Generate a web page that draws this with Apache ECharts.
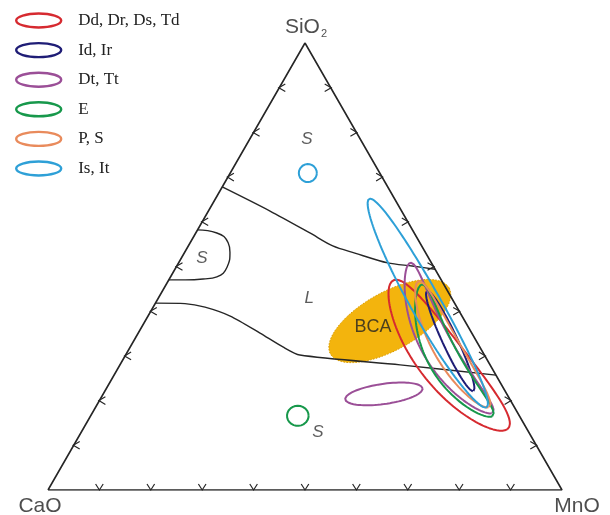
<!DOCTYPE html>
<html>
<head>
<meta charset="utf-8">
<script src="https://cdn.jsdelivr.net/npm/echarts@6/dist/echarts.min.js"></script>
<style>
  html, body { margin: 0; padding: 0; background: #fff; }
  #chart { width: 610px; height: 515px; }
</style>
</head>
<body>
<div id="chart"></div>
<script>
// All compositions are given as [SiO2, CaO, MnO] in wt %.
const tickSteps = [10, 20, 30, 40, 50, 60, 70, 80, 90];

// Phase boundaries
const upperBoundary = [[67.8, 32.2, 0], [62.4, 25.6, 12.0], [57.5, 20.3, 22.2], [54.6, 17.3, 28.1],
  [53.0, 13.8, 33.2], [50.8, 8.5, 40.7], [50.1, 4.1, 45.8], [49.4, 0, 50.6]];
const lowerBoundary = [[41.8, 58.2, 0], [41.7, 52.5, 5.8], [40.9, 49.0, 10.1], [38.9, 45.1, 16.0],
  [35.1, 41.2, 23.7], [32.0, 38.3, 29.7], [30.2, 35.9, 33.9], [28.0, 17.5, 54.5], [25.7, 0, 74.3]];
const leftLoop = [[58.2, 41.8, 0], [57.5, 38.4, 4.1], [55.3, 37.3, 7.4], [53.2, 38.0, 8.8],
  [49.9, 40.2, 9.9], [47.7, 43.3, 9.0], [47.2, 46.2, 6.6], [47.0, 49.8, 3.2], [47.0, 53.0, 0]];

// Composition fields:
// [SiO2, CaO, MnO, semi-major, semi-minor, rotation (deg), bow of the long axis]
const fieldDdDrDsTd = [[30.2, 6.7, 63.1, 18.2, 4.6, -52, -1.9]];
const fieldIdIr = [[33.3, 5.1, 61.6, 10.7, 1.45, -65, 0]];
const fieldDtTt = [[34.0, 4.6, 61.4, 16.6, 3.0, -61, -3.2], [21.5, 23.9, 54.6, 7.6, 1.95, 8, 0]];
const fieldE = [[31.2, 4.9, 63.9, 14.5, 3.0, -61.5, -3.0], [16.6, 43.1, 40.3, 2.1, 1.95, 0, 0]];
const fieldPS = [[32.6, 4.8, 62.6, 14.0, 2.6, -60.4, -1.5]];
const fieldIsIt = [[41.8, 5.2, 53.0, 23.2, 2.9, -60.5, -0.4], [70.9, 14.0, 15.1, 1.75, 1.75, 0, 0]];
const fieldBCA = [37.8, 14.6, 47.6, 13.2, 5.6, 29, 0];

const groupNames = ['Dd, Dr, Ds, Td', 'Id, Ir', 'Dt, Tt', 'E', 'P, S', 'Is, It'];
const groupFields = [fieldDdDrDsTd, fieldIdIr, fieldDtTt, fieldE, fieldPS, fieldIsIt];
const groupColors = ['#d62a30', '#1f1d76', '#9b4f97', '#17984b', '#e98b5c', '#2ea0d7'];

const regionNames = ['S', 'S', 'L', 'S'];
const regionPoints = [[78.5, 10.4, 11.1], [51.9, 44.1, 4.0], [43.0, 27.7, 29.3], [13.0, 41.0, 46.0]];
const bcaLabelPoint = [36.5, 18.5, 45.0];

// Ternary -> plane: CaO apex at (0,0), MnO apex at (100,0), SiO2 apex on top.
const H = Math.sqrt(3) / 2;
function toXY(p) { return [p[2] + p[0] / 2, p[0] * H]; }

// Outline of a (possibly bowed) ellipse around a ternary centre.
function ellipse(f) {
  const c = toXY(f);
  const a = f[3], b = f[4], r = f[5] * Math.PI / 180, bow = f[6] || 0;
  const pts = [];
  for (let i = 0; i <= 160; i++) {
    const t = i / 160 * 2 * Math.PI;
    const u = a * Math.cos(t);
    const v = b * Math.sin(t) + bow * (1 - (u / a) * (u / a));
    pts.push([c[0] + u * Math.cos(r) - v * Math.sin(r), c[1] + u * Math.sin(r) + v * Math.cos(r)]);
  }
  return pts;
}

function fieldLine(fields) {
  const out = [];
  fields.forEach((f, i) => {
    if (i > 0) out.push(null);
    ellipse(f).forEach(p => out.push(p));
  });
  return out;
}

const tickData = [];
tickSteps.forEach(t => {
  tickData.push(toXY([0, 100 - t, t]).concat(0));
  tickData.push(toXY([t, 100 - t, 0]).concat(1));
  tickData.push(toXY([t, 0, 100 - t]).concat(2));
});

const bcaPts = ellipse(fieldBCA);
const ink = '#262626';

const series = [
  {
    type: 'custom', coordinateSystem: 'cartesian2d', silent: true, z: 1,
    data: [[0, 0]],
    renderItem: (params, api) => ({
      type: 'polygon',
      shape: { points: bcaPts.map(p => api.coord(p)) },
      style: { fill: '#f3b40d', stroke: '#d99b00', lineWidth: 1, lineDash: [1.5, 1.5] }
    })
  },
  {
    type: 'line', silent: true, z: 3, symbol: 'none',
    data: [toXY([0, 100, 0]), toXY([0, 0, 100]), toXY([100, 0, 0]), toXY([0, 100, 0])],
    lineStyle: { color: ink, width: 1.6 }
  },
  {
    type: 'line', silent: true, z: 3, symbol: 'none', smooth: 0.3,
    data: upperBoundary.map(toXY), lineStyle: { color: ink, width: 1.4 }
  },
  {
    type: 'line', silent: true, z: 3, symbol: 'none', smooth: 0.25,
    data: lowerBoundary.map(toXY), lineStyle: { color: ink, width: 1.4 }
  },
  {
    type: 'line', silent: true, z: 3, symbol: 'none', smooth: 0.5,
    data: leftLoop.map(toXY), lineStyle: { color: ink, width: 1.4 }
  },
  {
    type: 'custom', coordinateSystem: 'cartesian2d', silent: true, z: 3,
    data: tickData,
    renderItem: (params, api) => {
      const p = api.coord([api.value(0), api.value(1)]);
      const d = api.value(2);
      const L = 6, W = 3.8;
      let pts;
      if (d === 0) pts = [[p[0] - W, p[1] - L], p, [p[0] + W, p[1] - L]];
      else if (d === 1) pts = [[p[0] + L, p[1] - W], [p[0] - 0.5, p[1]], [p[0] + L, p[1] + W]];
      else pts = [[p[0] - L, p[1] - W], [p[0] + 0.5, p[1]], [p[0] - L, p[1] + W]];
      return { type: 'polyline', shape: { points: pts }, style: { stroke: ink, lineWidth: 1.2, fill: null } };
    }
  }
];

groupNames.forEach((name, i) => {
  series.push({
    name: name, type: 'line', silent: true, z: 5, symbol: 'none', connectNulls: false,
    color: groupColors[i],
    data: fieldLine(groupFields[i]),
    lineStyle: { color: groupColors[i], width: 2 }
  });
});

series.push({
  type: 'scatter', silent: true, z: 6, symbolSize: 1,
  itemStyle: { color: 'rgba(0,0,0,0)' },
  data: regionNames.map((n, i) => ({ name: n, value: toXY(regionPoints[i]) })),
  label: {
    show: true, position: 'inside', formatter: '{b}', color: '#333',
    fontFamily: 'Liberation Sans', fontStyle: 'italic', fontSize: 17
  }
});
series.push({
  type: 'scatter', silent: true, z: 6, symbolSize: 1,
  itemStyle: { color: 'rgba(0,0,0,0)' },
  data: [{ name: 'BCA', value: toXY(bcaLabelPoint) }],
  label: {
    show: true, position: 'inside', formatter: '{b}', color: '#222',
    fontFamily: 'Liberation Sans', fontSize: 18
  }
});
series.push({
  type: 'scatter', silent: true, z: 6, symbolSize: 1,
  itemStyle: { color: 'rgba(0,0,0,0)' },
  data: [
    { name: 'SiO2', value: toXY([100, 0, 0]), label: { formatter: '{m|SiO}{s|2}', offset: [1, -16] } },
    { name: 'CaO', value: toXY([0, 100, 0]), label: { formatter: '{m|CaO}', offset: [-8, 16] } },
    { name: 'MnO', value: toXY([0, 0, 100]), label: { formatter: '{m|MnO}', offset: [15, 16] } }
  ],
  label: {
    show: true, position: 'inside', color: '#222',
    rich: {
      m: { fontFamily: 'Liberation Sans', fontSize: 21, lineHeight: 24, verticalAlign: 'middle', color: '#222' },
      s: { fontFamily: 'Liberation Sans', fontSize: 11, lineHeight: 11, verticalAlign: 'bottom', color: '#222', padding: [0, 0, 0, 1] }
    }
  }
});

const chart = echarts.init(document.getElementById('chart'), null, { renderer: 'canvas' });
chart.setOption({
  animation: false,
  backgroundColor: '#fff',
  grid: { left: 48, right: 48, top: 43, bottom: 25 },
  xAxis: { type: 'value', min: 0, max: 100, show: false },
  yAxis: { type: 'value', min: 0, max: 100 * H, show: false },
  legend: {
    orient: 'vertical', left: 15, top: 12, padding: 0,
    itemWidth: 45, itemHeight: 14, itemGap: 12.6,
    icon: 'path://M0,7A22.5,7,0,1,1,45,7A22.5,7,0,1,1,0,7Z',
    selectedMode: false,
    data: groupNames.map((n, i) => ({
      name: n,
      itemStyle: { color: 'rgba(0,0,0,0)', borderColor: groupColors[i], borderWidth: 2.4 }
    })),
    textStyle: { fontFamily: 'Liberation Serif', fontSize: 17, color: '#222', lineHeight: 14, padding: [0, 0, 0, 12] }
  },
  series: series
});
</script>
</body>
</html>
